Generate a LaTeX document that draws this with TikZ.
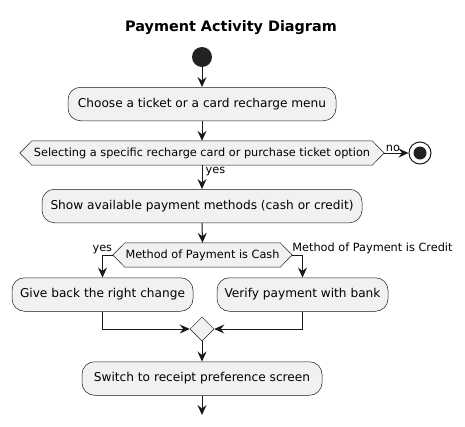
\documentclass[tikz,border=0pt]{standalone}
\usepackage{fontspec}
\setmainfont{DejaVu Sans}
\usetikzlibrary{arrows.meta,shapes.geometric}
\definecolor{fillc}{HTML}{F1F1F1}
\definecolor{linec}{HTML}{181818}
\definecolor{dotc}{HTML}{222222}
\begin{document}
\begin{tikzpicture}[x=1pt,y=-1pt,
  act/.style={draw=linec, line width=0.5pt, fill=fillc, rounded corners=12.5pt, inner sep=0pt,
    minimum height=33.5pt, font=\fontsize{12.15}{14}\selectfont},
  dtext/.style={inner sep=0pt, minimum height=24pt, font=\fontsize{11.3}{13}\selectfont},
  hexa/.style={draw=linec, line width=0.5pt, fill=fillc},
  arr/.style={draw=linec, line width=1pt, -{Stealth[length=10pt,width=9pt,inset=3.5pt]}},
  lbl/.style={inner sep=0pt, font=\fontsize{11.3}{13}\selectfont}
]
\fill[white] (0,0) rectangle (465,426);
\useasboundingbox (0,0) rectangle (465,426);

\node[font=\fontsize{14.4}{16}\selectfont\bfseries] (title) at (231,28) {Payment Activity Diagram};

\node[circle, fill=dotc, minimum size=20pt, inner sep=0pt] (start) at (202,57) {};

\node[act, minimum width=268pt] (a1) at (202,104) {Choose a ticket or a card recharge menu};

% decision 1
\node[dtext, minimum width=340pt] (d1) at (202,153) {};
\coordinate (d1l) at ([xshift=-12pt]d1.west);
\coordinate (d1r) at ([xshift=12pt]d1.east);
\path[hexa] (d1.north west) -- (d1.north east) -- (d1r) -- (d1.south east) -- (d1.south west) -- (d1l) -- cycle;
\node[dtext, minimum width=340pt] (d1t) at (d1) {Selecting a specific recharge card or purchase ticket option};

\node[circle, draw=linec, line width=1pt, fill=white, minimum size=22pt, inner sep=0pt] (stop) at (420,153) {};
\node[circle, fill=dotc, minimum size=13pt, inner sep=0pt] (stopin) at (stop) {};

\node[act, minimum width=320pt] (a2) at (202,206) {Show available payment methods (cash or credit)};

% decision 2
\node[dtext, minimum width=155pt] (d2) at (202.5,255) {};
\coordinate (d2l) at ([xshift=-12pt]d2.west);
\coordinate (d2r) at ([xshift=12pt]d2.east);
\path[hexa] (d2.north west) -- (d2.north east) -- (d2r) -- (d2.south east) -- (d2.south west) -- (d2l) -- cycle;
\node[dtext, minimum width=155pt] (d2t) at (d2) {Method of Payment is Cash};

\node[act, minimum width=181pt] (a3) at (102.5,294.5) {Give back the right change};
\node[act, minimum width=171pt] (a4) at (302.5,294.5) {Verify payment with bank};

\node[diamond, aspect=1, draw=linec, line width=0.5pt, fill=fillc, minimum width=24pt, minimum height=24pt, inner sep=0pt] (m) at (202,329) {};

\node[act, minimum width=240pt] (a5) at (202,378.5) {Switch to receipt preference screen};
\coordinate (endpt) at (202,415);

% connectors
\draw[arr] (start.south) -- (a1.north);
\draw[arr] (a1.south) -- (d1.north);
\draw[arr] (d1r) -- (stop.west);
\draw[arr] (d1.south) -- (a2.north);
\draw[arr] (a2.south) -- (d2.north);
\draw[arr] (d2l) -- (a3.north |- d2l) -- (a3.north);
\draw[arr] (d2r) -- (a4.north |- d2r) -- (a4.north);
\draw[arr] (a3.south) -- (a3.south |- m.west) -- (m.west);
\draw[arr] (a4.south) -- (a4.south |- m.east) -- (m.east);
\draw[arr] (m.south) -- (a5.north);
\draw[arr] (a5.south) -- (endpt);

% labels
\node[lbl, anchor=south west] (lno) at ([xshift=1.5pt,yshift=1pt]d1r) {no};
\node[lbl, anchor=west] (lyes1) at (205.5,172) {yes};
\node[lbl, anchor=south east] (lyes2) at ([xshift=-0.5pt,yshift=1pt]d2l) {yes};
\node[lbl, anchor=south west] (lcredit) at ([xshift=0pt,yshift=1pt]d2r) {Method of Payment is Credit};
\end{tikzpicture}
\end{document}
